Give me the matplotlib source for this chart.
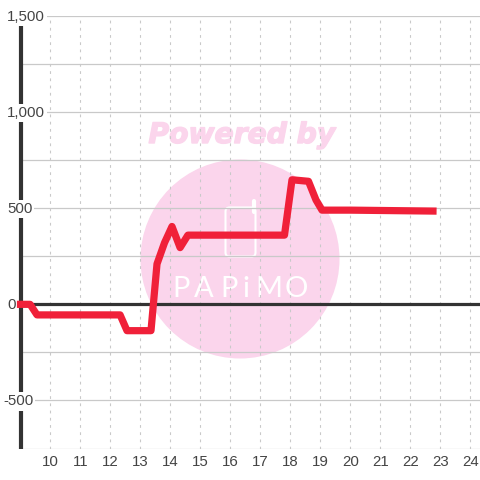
import matplotlib
matplotlib.use('Agg')
import matplotlib.pyplot as plt
import matplotlib.patheffects as pe
from matplotlib.patches import Circle, FancyBboxPatch

plt.rcParams['font.family'] = ['Liberation Sans', 'DejaVu Sans']

xs = [8.88, 9.32, 9.55, 12.32, 12.55, 13.35, 13.55, 13.8, 14.05, 14.32, 14.58, 17.8, 18.05, 18.6, 18.85, 19.05, 20.0, 22.87]
ys = [0, 0, -55, -55, -137, -137, 210, 320, 405, 295, 360, 360, 648, 640, 543, 490, 490, 485]
x_ticks = list(range(10, 25))
y_ticks = [-500, 0, 500, 1000, 1500]
y_labels = ['-500', '0', '500', '1,000', '1,500']
y_grid = [-750, -500, -250, 0, 250, 500, 750, 1000, 1250, 1500]
logo_letters = ['P', 'A', 'P', 'i', 'M', 'O']
logo_px = [181, 204, 229, 246, 269, 296]

pink = '#fbd5ec'
fig = plt.figure(figsize=(4.8, 4.8), dpi=100, facecolor='white')

# watermark sits under the chart, drawn in pixel coords
bg = fig.add_axes([0, 0, 1, 1], zorder=0)
bg.set_xlim(0, 480)
bg.set_ylim(480, 0)
bg.axis('off')
bg.add_patch(Circle((240, 259), 99.5, fc=pink, ec='none'))
bg.text(242, 135, 'Powered by', color=pink, fontsize=20.3, family='DejaVu Sans',
        weight='bold', style='oblique', ha='center', va='center',
        path_effects=[pe.withStroke(linewidth=1, foreground=pink)])
bg.add_patch(FancyBboxPatch((225.5, 207.5), 30, 49, boxstyle='round,pad=0,rounding_size=4',
                            fc='none', ec='white', lw=1.5))
bg.plot([254, 254], [201, 212], color='white', lw=3, solid_capstyle='round')
for px, ch in zip(logo_px, logo_letters):
    bg.text(px, 289, ch, color='white', fontsize=21, family='Lato',
            ha='center', va='center')

ax = fig.add_axes([20.5 / 480, 31.5 / 480, 459.5 / 480, 432.5 / 480], zorder=1)
ax.patch.set_visible(False)
ax.set_xlim(9, 24.317)
ax.set_ylim(-750, 1500)
for s in ['top', 'right', 'bottom']:
    ax.spines[s].set_visible(False)
ax.spines['left'].set_linewidth(3)
ax.spines['left'].set_color('#333333')
ax.spines['left'].set_zorder(2)
ax.spines['left'].set_capstyle('butt')

for v in y_grid:
    ax.axhline(v, color='#c9c9c9', lw=0.9, zorder=1)
for v in x_ticks:
    ax.axvline(v, color='#c9c9c9', lw=0.8, ls=(0, (2.5, 4)), zorder=1)
ax.axhline(0, color='#333333', lw=2.3, zorder=2)

ax.plot(xs, ys, color='#f02039', lw=5.2, solid_joinstyle='round', solid_capstyle='butt', zorder=3, clip_on=False)

ax.set_xticks(x_ticks)
ax.set_yticks([])
ax.tick_params(axis='x', length=0, pad=5, labelsize=10.8, labelcolor='#444444')

# y labels start at a fixed pixel and blank out what is behind them
for v, lab in zip(y_ticks, y_labels):
    px = 3 if v < 0 else 7
    ax.annotate(lab, xy=(px / 480, v), xycoords=('figure fraction', 'data'), xytext=(0, -0.7),
                textcoords='offset points', ha='left', va='center',
                fontsize=10.8, color='#444444', zorder=4 if v != 0 else 2.5, annotation_clip=False,
                bbox=dict(fc='white', ec='none', pad=1.5))

fig.savefig('out.png', dpi=100)
